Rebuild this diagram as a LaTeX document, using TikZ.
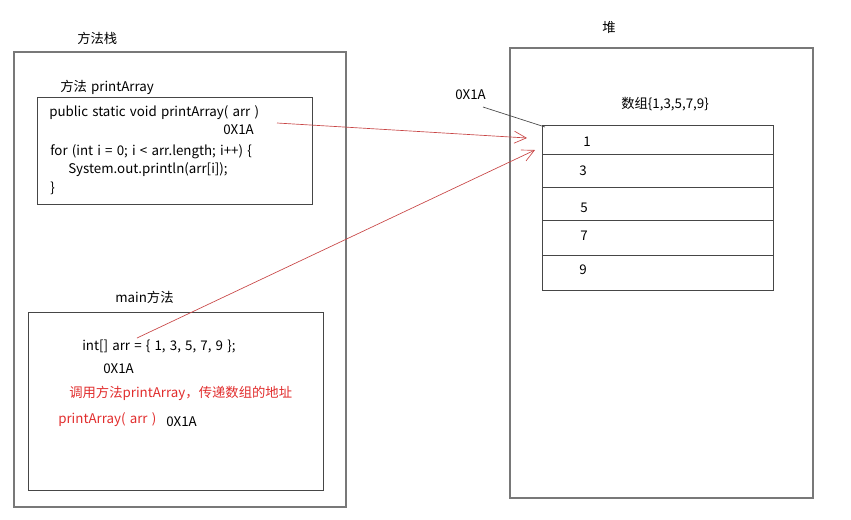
\documentclass[tikz,border=0pt]{standalone}
\usepackage{fontspec}
\setmainfont{Noto Sans CJK SC}[WordSpace=1.4]
\usetikzlibrary{arrows.meta}
\definecolor{framegray}{RGB}{120,120,120}
\definecolor{boxdark}{RGB}{70,70,70}
\definecolor{ptrred}{RGB}{200,70,70}
\definecolor{txtred}{RGB}{225,45,45}
\tikzset{
  txt/.style={anchor=west, inner sep=0pt, font=\fontsize{10}{12}\selectfont},
  redtxt/.style={txt, text=txtred},
  frame/.style={draw=framegray, line width=0.8pt},
  box/.style={draw=boxdark, line width=0.6pt},
  ptr/.style={draw=ptrred, line width=0.5pt, -{Straight Barb[length=9pt,width=9pt,line width=0.5pt]}}
}

\begin{document}
\begin{tikzpicture}[x=0.75pt,y=-0.75pt]
\useasboundingbox (0,0) rectangle (851,519);
% stack side
\node[txt] (stacklbl) at (77,38) {方法栈};
\draw[frame] (14,52) rectangle (346,507);
\node[txt] (pacap) at (60,87) {方法 printArray};
\draw[box] (37,97) rectangle (312,204);
\node[txt] (sig) at (49,113) {public static void printArray( arr )};
\node[txt] (paaddr) at (223,130) {0X1A};
\node[txt] (loop) at (50,152) {for (int i = 0; i < arr.length; i++) \{};
\node[txt] (body) at (68,170) {System.out.println(arr[i]);};
\node[txt] (close) at (50,188) {\}};
\node[txt] (maincap) at (115,297) {main方法};
\draw[box] (28,312) rectangle (323,490);
\node[txt] (decl) at (82,346) {int[] arr = \{ 1, 3, 5, 7, 9 \};};
\node[txt] (mainaddr) at (103,369) {0X1A};
\node[redtxt] (note) at (69,393) {调用方法printArray，传递数组的地址};
\node[redtxt] (call) at (58,420) {printArray( arr )};
\node[txt] (calladdr) at (166,422) {0X1A};
% heap side
\node[txt] (heaplbl) at (602,27) {堆};
\draw[frame] (510,48) rectangle (813,498);
\node[txt] (heapaddr) at (455,95) {0X1A};
\node[txt] (arrcap) at (621,104) {数组\{1,3,5,7,9\}};
\draw[box] (542,125) rectangle (773,290);
\foreach \y in {154,187,220,255}
  \draw[box] (542,\y) -- (773,\y);
\node[txt] (v1) at (583,142) {1};
\node[txt] (v3) at (579,171) {3};
\node[txt] (v5) at (580,208) {5};
\node[txt] (v7) at (580,236) {7};
\node[txt] (v9) at (579,270) {9};
% pointers
\coordinate (cell) at (545,127);
\coordinate (tipA) at (527,138);
\coordinate (tipB) at (535,150);
\coordinate (fromA) at (277,123);
\coordinate (fromB) at (137,338);
\draw[boxdark, line width=0.5pt] (483,107) -- (cell);
\draw[ptr] (fromA) -- (tipA);
\draw[ptr] (fromB) -- (tipB);
\end{tikzpicture}
\end{document}
